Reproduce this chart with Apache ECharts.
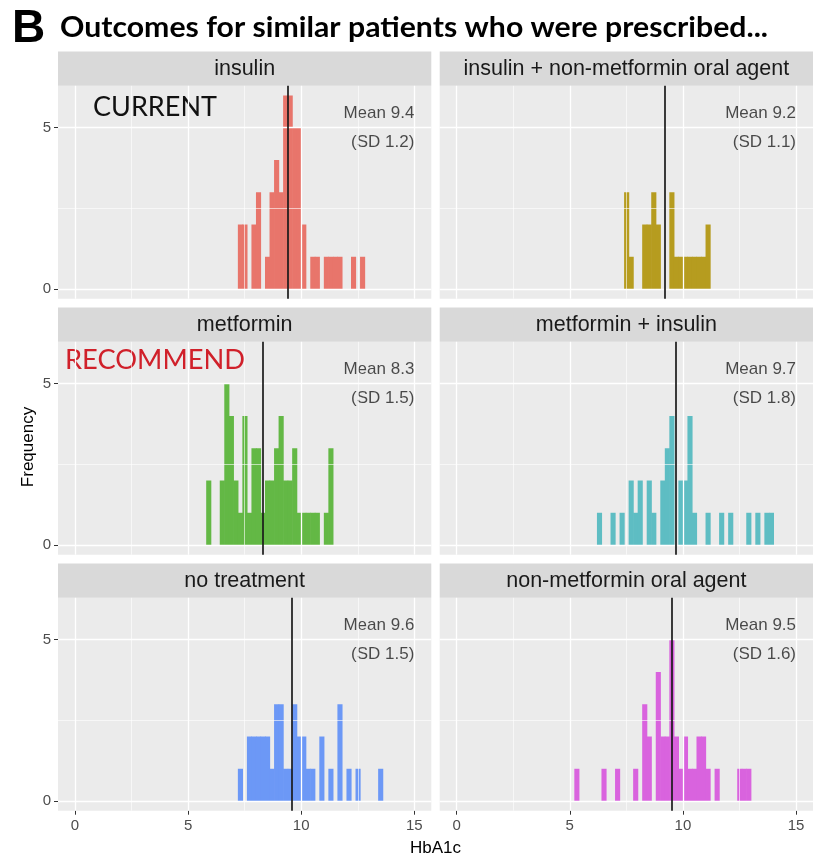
<!DOCTYPE html>
<html><head><meta charset="utf-8">
<script src="https://cdn.jsdelivr.net/npm/echarts@6/dist/echarts.min.js"></script>
<style>html,body{margin:0;padding:0;background:#fff}#c{width:813px;height:865px}</style>
</head><body><div id="c"></div>
<script>
// ---------------- data ----------------
const panelNames = ['insulin', 'insulin + non-metformin oral agent', 'metformin', 'metformin + insulin', 'no treatment', 'non-metformin oral agent'];
const binWidth = 0.2;
const binStarts = [7.2, 7.4, 5.8, 6.2, 7.2, 5.2];
const countsInsulin       = [2,2,0,2,3,0,1,3,4,3,6,6,5,5,2,0,1,1,0,1,1,1,1,0,0,1,0,1];
const countsInsulinNonMet = [3,1,0,0,2,2,3,2,0,0,3,1,1,1,1,1,1,1,2];
const countsMetformin     = [2,0,0,2,5,4,2,1,4,1,3,3,1,2,2,3,4,2,2,3,1,1,1,1,1,0,1,3];
const countsMetInsulin    = [1,0,0,1,0,1,0,2,1,2,0,2,1,0,2,3,4,0,2,2,4,1,0,0,1,0,0,1,0,1,0,0,0,1,0,1,0,1,1];
const countsNoTreatment   = [1,0,2,2,2,2,2,1,3,3,1,1,3,2,2,1,1,0,2,0,1,0,3,0,1,0,1,0,0,0,0,1];
const countsNonMetOral    = [1,0,0,0,0,0,1,0,0,1,0,0,0,1,0,3,2,0,4,2,2,5,2,1,2,1,1,2,2,1,0,1,0,0,0,0,1,1,1];
const means = [9.4, 9.2, 8.3, 9.7, 9.6, 9.5];
const sds   = [1.2, 1.1, 1.5, 1.8, 1.5, 1.6];
const xTicks = [0, 5, 10, 15];
const xMinor = [2.5, 7.5, 12.5];
const yTicks = [0, 5];
const yMinor = [2.5];

// ---------------- styling / layout ----------------
const allCounts = [countsInsulin, countsInsulinNonMet, countsMetformin, countsMetInsulin, countsNoTreatment, countsNonMetOral];
const colors = ['#E8756B', '#B69C1F', '#63B845', '#5EBDC3', '#6C98F6', '#D963DE'];
const colLeft = [58, 439.7];
const panelW = 373.3;
const rowTop = [85.8, 341.8, 597.8];
const panelH = 212.9;
const stripH = 34.4;
const annotX = 15, annotY = 5;
const SANS = '"Liberation Sans", Arial, sans-serif';

function fitScale(text, font, target) {
  const ctx = document.createElement('canvas').getContext('2d');
  ctx.font = font;
  return target / ctx.measureText(text).width;
}

const grids = [], xAxes = [], yAxes = [], series = [], graphics = [];
for (let i = 0; i < 6; i++) {
  const r = Math.floor(i / 2), c = i % 2;
  grids.push({left: colLeft[c], top: rowTop[r], width: panelW, height: panelH,
    show: true, backgroundColor: '#EBEBEB', borderWidth: 0, containLabel: false});
  xAxes.push({type: 'value', gridIndex: i, min: -0.75, max: 15.75, position: 'bottom',
    splitLine: {show: false},
    axisLine: {show: true, onZero: false, lineStyle: {color: 'rgba(0,0,0,0)'}},
    axisTick: {show: r === 2, inside: false, customValues: xTicks, length: 4, lineStyle: {color: '#333', width: 1}},
    axisLabel: {show: r === 2, customValues: xTicks, color: '#4D4D4D', fontSize: 15, margin: 8, fontFamily: SANS}});
  yAxes.push({type: 'value', gridIndex: i, min: -0.3, max: 6.3, position: 'left',
    splitLine: {show: false},
    axisLine: {show: true, onZero: false, lineStyle: {color: 'rgba(0,0,0,0)'}},
    axisTick: {show: c === 0, inside: false, customValues: yTicks, length: 4, lineStyle: {color: '#333', width: 1}},
    axisLabel: {show: c === 0, customValues: yTicks, color: '#4D4D4D', fontSize: 15, margin: 7, fontFamily: SANS}});

  const major = {color: '#FFFFFF', width: 1.3, type: 'solid'};
  const minor = {color: '#FFFFFF', width: 0.6, type: 'solid'};
  series.push({type: 'line', xAxisIndex: i, yAxisIndex: i, data: [], z: 1, silent: true,
    markLine: {silent: true, symbol: ['none', 'none'], label: {show: false}, animation: false,
      lineStyle: {type: 'solid', color: '#fff'},
      emphasis: {disabled: true},
      data: [
        ...xMinor.map(v => ({xAxis: v, lineStyle: minor})),
        ...yMinor.map(v => ({yAxis: v, lineStyle: minor})),
        ...xTicks.map(v => ({xAxis: v, lineStyle: major})),
        ...yTicks.map(v => ({yAxis: v, lineStyle: major}))
      ]}});

  const counts = allCounts[i];
  const data = counts.map((n, k) => [binStarts[i] + k * binWidth, binStarts[i] + (k + 1) * binWidth, n]).filter(d => d[2] > 0);
  const col = colors[i];
  series.push({type: 'custom', xAxisIndex: i, yAxisIndex: i, z: 2, silent: true, data: data,
    encode: {x: [0, 1], y: 2},
    renderItem: function (params, api) {
      const p0 = api.coord([api.value(0), 0]);
      const p1 = api.coord([api.value(1), api.value(2)]);
      return {type: 'rect', shape: {x: p0[0], y: p1[1], width: p1[0] - p0[0] + 0.6, height: p0[1] - p1[1]},
        style: {fill: col}};
    }});

  series.push({type: 'scatter', xAxisIndex: i, yAxisIndex: i, z: 4, symbolSize: 0, silent: true,
    data: [[annotX, annotY]],
    label: {show: true, position: 'left', distance: 0, formatter: 'Mean ' + means[i] + '\n(SD ' + sds[i] + ')',
      fontSize: 17, lineHeight: 29, color: '#1F1F1F', fontFamily: SANS, align: 'right'},
    markLine: {silent: true, symbol: ['none', 'none'], label: {show: false}, animation: false,
      emphasis: {disabled: true},
      lineStyle: {color: '#1A1A1A', width: 1.7, type: 'solid'}, data: [{xAxis: means[i]}]}});

  graphics.push({type: 'rect', x: colLeft[c], y: rowTop[r] - stripH, shape: {x: 0, y: 0, width: panelW, height: stripH},
    style: {fill: '#D9D9D9'}, silent: true});
  graphics.push({type: 'text', x: colLeft[c] + panelW / 2, y: rowTop[r] - stripH / 2, silent: true,
    style: {text: panelNames[i], fill: '#1A1A1A', font: '21.5px ' + SANS,
      textAlign: 'center', align: 'center', textVerticalAlign: 'middle', verticalAlign: 'middle'}});
}

const titleText = 'Outcomes for similar patients who were prescribed...';
const titleFont = 'bold 28px Lato';
graphics.push({type: 'text', x: 12, y: 29, silent: true,
  style: {text: 'B', fill: '#000', font: 'bold 46px ' + SANS, textVerticalAlign: 'middle', verticalAlign: 'middle'}});
graphics.push({type: 'text', x: 60, y: 28, scaleX: fitScale(titleText, titleFont, 708), silent: true,
  style: {text: titleText, fill: '#000', font: titleFont, textVerticalAlign: 'middle', verticalAlign: 'middle'}});
const noteFont = '27px Lato';
graphics.push({type: 'text', x: 93, y: 107, scaleX: fitScale('CURRENT', noteFont, 124), silent: true,
  style: {text: 'CURRENT', fill: '#111', font: noteFont, textVerticalAlign: 'middle', verticalAlign: 'middle'}});
graphics.push({type: 'text', x: 65, y: 360, scaleX: fitScale('RECOMMEND', noteFont, 180), silent: true,
  style: {text: 'RECOMMEND', fill: '#D0202A', font: noteFont, textVerticalAlign: 'middle', verticalAlign: 'middle'}});
graphics.push({type: 'text', x: 28.5, y: 447, rotation: Math.PI / 2, silent: true,
  style: {text: 'Frequency', fill: '#000', font: '17px ' + SANS, textAlign: 'center', align: 'center',
    textVerticalAlign: 'middle', verticalAlign: 'middle'}});
graphics.push({type: 'text', x: 435.5, y: 848, silent: true,
  style: {text: 'HbA1c', fill: '#000', font: '17px ' + SANS, textAlign: 'center', align: 'center',
    textVerticalAlign: 'middle', verticalAlign: 'middle'}});

const chart = echarts.init(document.getElementById('c'), null, {renderer: 'canvas'});
chart.setOption({
  animation: false,
  backgroundColor: '#FFFFFF',
  textStyle: {fontFamily: SANS},
  grid: grids, xAxis: xAxes, yAxis: yAxes, series: series, graphic: graphics
});
</script></body></html>
